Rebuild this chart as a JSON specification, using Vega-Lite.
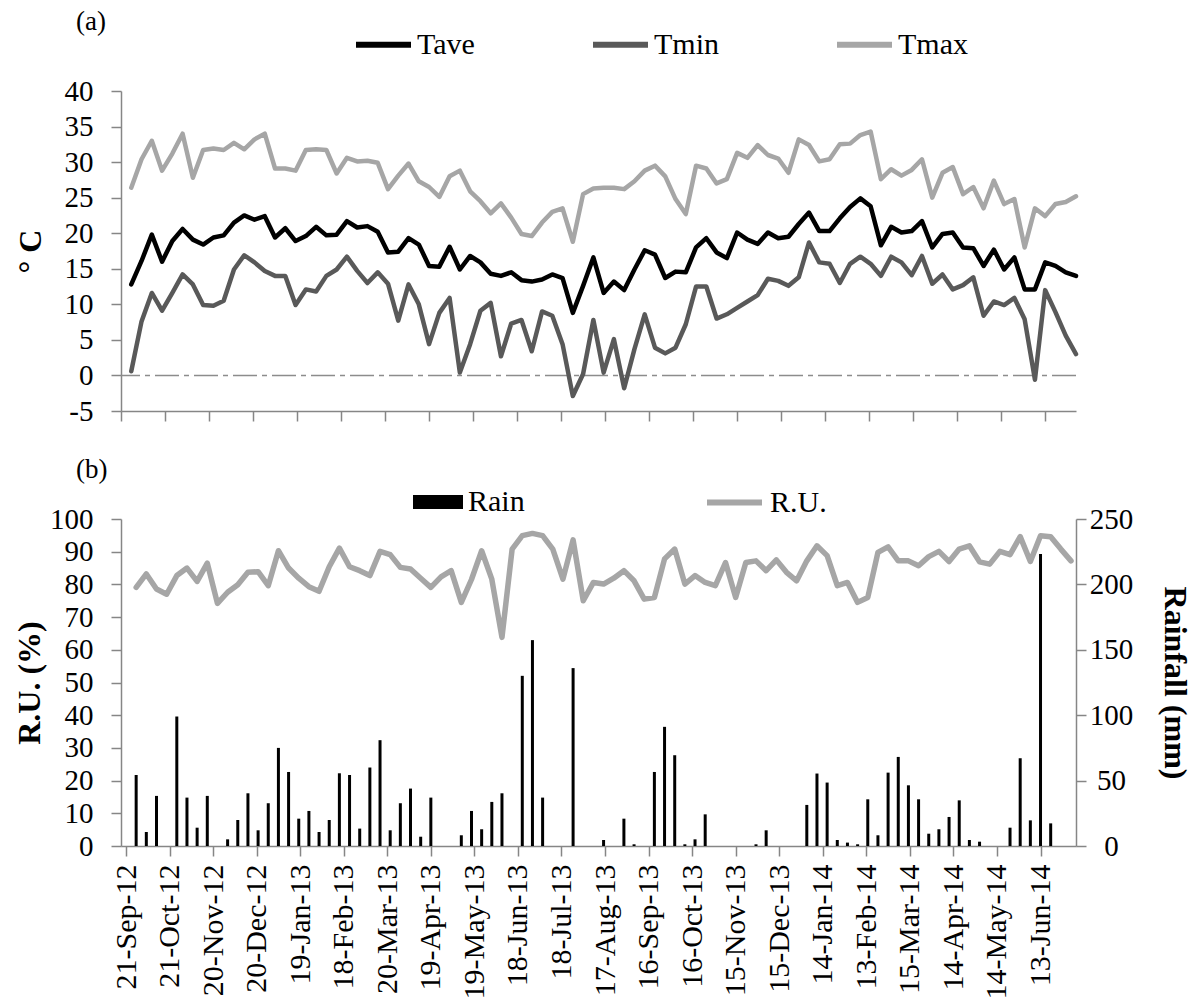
{
  "$schema": "https://vega.github.io/schema/vega-lite/v6.json",
  "padding": {"left": 13, "top": 8, "right": 5, "bottom": 5},
  "config": {
    "font": "Liberation Serif",
    "view": {"stroke": null},
    "axis": {
      "labelFont": "Liberation Serif", "labelFontSize": 29, "labelColor": "#000000",
      "labelOverlap": false, "labelBound": false,
      "domainColor": "#868686", "tickColor": "#868686", "domainWidth": 1.5, "tickWidth": 1.5,
      "tickSize": 10, "grid": false,
      "titleFont": "Liberation Serif", "titleFontWeight": "bold", "titleFontSize": 32, "titleColor": "#000000"
    },
    "legend": {"labelFont": "Liberation Serif", "labelFontSize": 30, "labelColor": "#000000"},
    "title": {"font": "Liberation Serif", "fontSize": 27, "fontWeight": "normal", "color": "#000000"}
  },
  "datasets": {
    "w": [
      {"d": "2012-09-28", "Tmax": 26.4, "Tave": 12.8, "Tmin": 0.6, "RU": 79.1, "Rain": 54.3},
      {"d": "2012-10-05", "Tmax": 30.4, "Tave": 16.1, "Tmin": 7.6, "RU": 83.2, "Rain": 10.7},
      {"d": "2012-10-12", "Tmax": 33.0, "Tave": 19.8, "Tmin": 11.6, "RU": 78.6, "Rain": 38.3},
      {"d": "2012-10-19", "Tmax": 28.8, "Tave": 16.0, "Tmin": 9.1, "RU": 77.0, "Rain": 0},
      {"d": "2012-10-26", "Tmax": 31.2, "Tave": 18.9, "Tmin": 11.6, "RU": 82.7, "Rain": 99.0},
      {"d": "2012-11-02", "Tmax": 34.0, "Tave": 20.6, "Tmin": 14.2, "RU": 85.0, "Rain": 37.0},
      {"d": "2012-11-09", "Tmax": 27.8, "Tave": 19.1, "Tmin": 12.8, "RU": 80.9, "Rain": 14.0},
      {"d": "2012-11-16", "Tmax": 31.7, "Tave": 18.4, "Tmin": 9.9, "RU": 86.5, "Rain": 38.3},
      {"d": "2012-11-23", "Tmax": 31.9, "Tave": 19.4, "Tmin": 9.8, "RU": 74.2, "Rain": 0},
      {"d": "2012-11-30", "Tmax": 31.7, "Tave": 19.7, "Tmin": 10.5, "RU": 77.6, "Rain": 5.1},
      {"d": "2012-12-07", "Tmax": 32.7, "Tave": 21.5, "Tmin": 14.9, "RU": 79.9, "Rain": 19.9},
      {"d": "2012-12-14", "Tmax": 31.8, "Tave": 22.5, "Tmin": 16.9, "RU": 83.7, "Rain": 40.3},
      {"d": "2012-12-21", "Tmax": 33.2, "Tave": 21.9, "Tmin": 15.9, "RU": 83.9, "Rain": 12.0},
      {"d": "2012-12-28", "Tmax": 34.0, "Tave": 22.4, "Tmin": 14.7, "RU": 79.6, "Rain": 32.7},
      {"d": "2013-01-04", "Tmax": 29.1, "Tave": 19.4, "Tmin": 14.0, "RU": 90.3, "Rain": 75.0},
      {"d": "2013-01-11", "Tmax": 29.1, "Tave": 20.7, "Tmin": 14.0, "RU": 85.0, "Rain": 56.6},
      {"d": "2013-01-18", "Tmax": 28.8, "Tave": 18.9, "Tmin": 9.9, "RU": 81.9, "Rain": 20.9},
      {"d": "2013-01-25", "Tmax": 31.7, "Tave": 19.6, "Tmin": 12.1, "RU": 79.3, "Rain": 26.8},
      {"d": "2013-02-01", "Tmax": 31.8, "Tave": 20.9, "Tmin": 11.8, "RU": 77.9, "Rain": 10.7},
      {"d": "2013-02-08", "Tmax": 31.7, "Tave": 19.7, "Tmin": 14.0, "RU": 85.4, "Rain": 19.9},
      {"d": "2013-02-15", "Tmax": 28.4, "Tave": 19.8, "Tmin": 14.9, "RU": 91.1, "Rain": 55.6},
      {"d": "2013-02-22", "Tmax": 30.6, "Tave": 21.7, "Tmin": 16.7, "RU": 85.4, "Rain": 54.3},
      {"d": "2013-03-01", "Tmax": 30.1, "Tave": 20.8, "Tmin": 14.7, "RU": 84.2, "Rain": 13.3},
      {"d": "2013-03-08", "Tmax": 30.2, "Tave": 21.0, "Tmin": 13.0, "RU": 82.7, "Rain": 60.0},
      {"d": "2013-03-15", "Tmax": 29.9, "Tave": 20.2, "Tmin": 14.5, "RU": 90.1, "Rain": 80.9},
      {"d": "2013-03-22", "Tmax": 26.2, "Tave": 17.3, "Tmin": 12.9, "RU": 89.1, "Rain": 12.0},
      {"d": "2013-03-29", "Tmax": 28.1, "Tave": 17.4, "Tmin": 7.7, "RU": 85.2, "Rain": 32.7},
      {"d": "2013-04-05", "Tmax": 29.8, "Tave": 19.3, "Tmin": 12.8, "RU": 84.7, "Rain": 43.9},
      {"d": "2013-04-12", "Tmax": 27.3, "Tave": 18.4, "Tmin": 10.0, "RU": 81.9, "Rain": 7.1},
      {"d": "2013-04-19", "Tmax": 26.5, "Tave": 15.4, "Tmin": 4.4, "RU": 79.1, "Rain": 37.0},
      {"d": "2013-04-26", "Tmax": 25.1, "Tave": 15.3, "Tmin": 8.8, "RU": 82.3, "Rain": 0},
      {"d": "2013-05-03", "Tmax": 28.0, "Tave": 18.1, "Tmin": 10.9, "RU": 84.2, "Rain": 0},
      {"d": "2013-05-10", "Tmax": 28.8, "Tave": 14.9, "Tmin": 0.4, "RU": 74.5, "Rain": 8.2},
      {"d": "2013-05-17", "Tmax": 25.9, "Tave": 16.8, "Tmin": 4.4, "RU": 81.5, "Rain": 26.8},
      {"d": "2013-05-24", "Tmax": 24.5, "Tave": 15.9, "Tmin": 9.1, "RU": 90.3, "Rain": 12.8},
      {"d": "2013-05-31", "Tmax": 22.8, "Tave": 14.3, "Tmin": 10.2, "RU": 81.6, "Rain": 33.7},
      {"d": "2013-06-07", "Tmax": 24.2, "Tave": 14.0, "Tmin": 2.7, "RU": 63.8, "Rain": 40.3},
      {"d": "2013-06-14", "Tmax": 22.2, "Tave": 14.5, "Tmin": 7.3, "RU": 90.8, "Rain": 0},
      {"d": "2013-06-21", "Tmax": 19.9, "Tave": 13.4, "Tmin": 7.8, "RU": 94.9, "Rain": 130.1},
      {"d": "2013-06-28", "Tmax": 19.6, "Tave": 13.2, "Tmin": 3.4, "RU": 95.6, "Rain": 157.4},
      {"d": "2013-07-05", "Tmax": 21.5, "Tave": 13.5, "Tmin": 9.0, "RU": 94.9, "Rain": 37.0},
      {"d": "2013-07-12", "Tmax": 23.0, "Tave": 14.2, "Tmin": 8.4, "RU": 90.8, "Rain": 0},
      {"d": "2013-07-19", "Tmax": 23.5, "Tave": 13.7, "Tmin": 4.4, "RU": 81.6, "Rain": 0},
      {"d": "2013-07-26", "Tmax": 18.8, "Tave": 8.8, "Tmin": -2.9, "RU": 93.6, "Rain": 136.0},
      {"d": "2013-08-02", "Tmax": 25.5, "Tave": 12.6, "Tmin": 0.2, "RU": 75.0, "Rain": 0},
      {"d": "2013-08-09", "Tmax": 26.3, "Tave": 16.6, "Tmin": 7.8, "RU": 80.6, "Rain": 0},
      {"d": "2013-08-16", "Tmax": 26.4, "Tave": 11.6, "Tmin": 0.4, "RU": 80.1, "Rain": 4.6},
      {"d": "2013-08-23", "Tmax": 26.4, "Tave": 13.2, "Tmin": 5.1, "RU": 81.9, "Rain": 0},
      {"d": "2013-08-30", "Tmax": 26.2, "Tave": 12.0, "Tmin": -1.8, "RU": 84.2, "Rain": 20.9},
      {"d": "2013-09-06", "Tmax": 27.3, "Tave": 14.9, "Tmin": 3.7, "RU": 81.1, "Rain": 1.3},
      {"d": "2013-09-13", "Tmax": 28.8, "Tave": 17.6, "Tmin": 8.6, "RU": 75.5, "Rain": 0},
      {"d": "2013-09-20", "Tmax": 29.5, "Tave": 17.0, "Tmin": 3.9, "RU": 76.0, "Rain": 56.6},
      {"d": "2013-09-27", "Tmax": 28.0, "Tave": 13.7, "Tmin": 3.1, "RU": 87.8, "Rain": 91.1},
      {"d": "2013-10-04", "Tmax": 24.8, "Tave": 14.6, "Tmin": 3.9, "RU": 90.8, "Rain": 69.4},
      {"d": "2013-10-11", "Tmax": 22.7, "Tave": 14.5, "Tmin": 7.2, "RU": 80.1, "Rain": 1.3},
      {"d": "2013-10-18", "Tmax": 29.5, "Tave": 18.0, "Tmin": 12.5, "RU": 82.7, "Rain": 5.1},
      {"d": "2013-10-25", "Tmax": 29.1, "Tave": 19.3, "Tmin": 12.5, "RU": 80.6, "Rain": 24.2},
      {"d": "2013-11-01", "Tmax": 27.0, "Tave": 17.3, "Tmin": 8.0, "RU": 79.6, "Rain": 0},
      {"d": "2013-11-08", "Tmax": 27.6, "Tave": 16.5, "Tmin": 8.6, "RU": 86.7, "Rain": 0},
      {"d": "2013-11-15", "Tmax": 31.3, "Tave": 20.1, "Tmin": 9.5, "RU": 76.0, "Rain": 0},
      {"d": "2013-11-22", "Tmax": 30.6, "Tave": 19.1, "Tmin": 10.4, "RU": 86.7, "Rain": 0},
      {"d": "2013-11-29", "Tmax": 32.4, "Tave": 18.5, "Tmin": 11.3, "RU": 87.2, "Rain": 1.3},
      {"d": "2013-12-06", "Tmax": 31.0, "Tave": 20.1, "Tmin": 13.6, "RU": 84.2, "Rain": 12.0},
      {"d": "2013-12-13", "Tmax": 30.5, "Tave": 19.3, "Tmin": 13.3, "RU": 87.5, "Rain": 0},
      {"d": "2013-12-20", "Tmax": 28.5, "Tave": 19.5, "Tmin": 12.6, "RU": 83.7, "Rain": 0},
      {"d": "2013-12-27", "Tmax": 33.2, "Tave": 21.3, "Tmin": 13.8, "RU": 81.1, "Rain": 0},
      {"d": "2014-01-03", "Tmax": 32.4, "Tave": 22.9, "Tmin": 18.7, "RU": 87.2, "Rain": 31.4},
      {"d": "2014-01-10", "Tmax": 30.1, "Tave": 20.3, "Tmin": 15.9, "RU": 91.8, "Rain": 55.4},
      {"d": "2014-01-17", "Tmax": 30.4, "Tave": 20.3, "Tmin": 15.7, "RU": 88.8, "Rain": 48.5},
      {"d": "2014-01-24", "Tmax": 32.5, "Tave": 22.1, "Tmin": 13.0, "RU": 79.6, "Rain": 4.6},
      {"d": "2014-01-31", "Tmax": 32.6, "Tave": 23.7, "Tmin": 15.7, "RU": 80.6, "Rain": 2.6},
      {"d": "2014-02-07", "Tmax": 33.8, "Tave": 24.9, "Tmin": 16.7, "RU": 74.5, "Rain": 1.3},
      {"d": "2014-02-14", "Tmax": 34.3, "Tave": 23.8, "Tmin": 15.7, "RU": 76.0, "Rain": 35.7},
      {"d": "2014-02-21", "Tmax": 27.6, "Tave": 18.3, "Tmin": 14.0, "RU": 89.8, "Rain": 8.2},
      {"d": "2014-02-28", "Tmax": 29.0, "Tave": 20.9, "Tmin": 16.7, "RU": 91.5, "Rain": 56.1},
      {"d": "2014-03-07", "Tmax": 28.1, "Tave": 20.1, "Tmin": 15.9, "RU": 87.2, "Rain": 68.1},
      {"d": "2014-03-14", "Tmax": 28.9, "Tave": 20.3, "Tmin": 14.1, "RU": 87.2, "Rain": 46.4},
      {"d": "2014-03-21", "Tmax": 30.4, "Tave": 21.7, "Tmin": 16.8, "RU": 85.7, "Rain": 35.7},
      {"d": "2014-03-28", "Tmax": 25.0, "Tave": 18.0, "Tmin": 12.9, "RU": 88.5, "Rain": 9.4},
      {"d": "2014-04-04", "Tmax": 28.5, "Tave": 19.9, "Tmin": 14.2, "RU": 90.1, "Rain": 12.8},
      {"d": "2014-04-11", "Tmax": 29.3, "Tave": 20.1, "Tmin": 12.1, "RU": 87.0, "Rain": 22.2},
      {"d": "2014-04-18", "Tmax": 25.5, "Tave": 18.0, "Tmin": 12.7, "RU": 90.8, "Rain": 34.9},
      {"d": "2014-04-25", "Tmax": 26.5, "Tave": 17.9, "Tmin": 13.8, "RU": 91.8, "Rain": 4.6},
      {"d": "2014-05-02", "Tmax": 23.5, "Tave": 15.4, "Tmin": 8.4, "RU": 86.9, "Rain": 3.3},
      {"d": "2014-05-09", "Tmax": 27.4, "Tave": 17.7, "Tmin": 10.4, "RU": 86.2, "Rain": 0},
      {"d": "2014-05-16", "Tmax": 24.1, "Tave": 14.9, "Tmin": 9.9, "RU": 90.1, "Rain": 0},
      {"d": "2014-05-23", "Tmax": 24.8, "Tave": 16.6, "Tmin": 10.9, "RU": 89.1, "Rain": 14.0},
      {"d": "2014-05-30", "Tmax": 18.0, "Tave": 12.1, "Tmin": 7.9, "RU": 94.6, "Rain": 67.1},
      {"d": "2014-06-06", "Tmax": 23.5, "Tave": 12.1, "Tmin": -0.6, "RU": 87.0, "Rain": 19.6},
      {"d": "2014-06-13", "Tmax": 22.4, "Tave": 15.9, "Tmin": 12.0, "RU": 94.9, "Rain": 223.2},
      {"d": "2014-06-20", "Tmax": 24.1, "Tave": 15.4, "Tmin": 8.9, "RU": 94.6, "Rain": 17.3},
      {"d": "2014-06-27", "Tmax": 24.4, "Tave": 14.5, "Tmin": 5.6, "RU": 90.8, "Rain": 0},
      {"d": "2014-07-04", "Tmax": 25.2, "Tave": 14.0, "Tmin": 3.0, "RU": 87.2, "Rain": 0}
    ]
  },
  "bounds": "flush",
  "spacing": 108,
  "resolve": {
    "scale": {"x": "independent", "color": "independent", "stroke": "independent"},
    "legend": {"color": "independent", "stroke": "independent"}
  },
  "vconcat": [
    {
      "width": 955,
      "height": 320,
      "title": {"text": "(a)", "anchor": "start", "frame": "group", "dx": -45, "offset": -22},
      "layer": [
        {
          "data": {"values": [{"ref": 0}]},
          "mark": {"type": "rule", "strokeDash": [24, 5, 5, 5], "color": "#8C8C8C", "strokeWidth": 1.5},
          "encoding": {
            "y": {
              "field": "ref", "type": "quantitative", "scale": {"domain": [-5, 40], "nice": false},
              "axis": {"title": "° C", "titlePadding": 17, "labelPadding": 18, "labelOverlap": false, "labelFont": "Liberation Serif", "labelExpr": "'' + datum.value", "values": [-5, 0, 5, 10, 15, 20, 25, 30, 35, 40]}
            }
          }
        },
        {
          "data": {"name": "w"},
          "transform": [{"fold": ["Tave", "Tmin", "Tmax"], "as": ["key", "value"]}],
          "mark": {"type": "line", "strokeWidth": 4.5, "strokeJoin": "round", "strokeCap": "round"},
          "encoding": {
            "x": {
              "field": "d", "type": "temporal",
              "scale": {"type": "utc", "domain": [{"year": 2012, "month": 9, "date": 21, "utc": true}, {"year": 2014, "month": 7, "date": 4, "utc": true}]},
              "axis": {
                "title": null, "labels": false, "grid": false, "tickSize": 10,
                "values": [
                  {"year": 2012, "month": 9, "date": 21, "utc": true},
                  {"year": 2012, "month": 10, "date": 21, "utc": true},
                  {"year": 2012, "month": 11, "date": 20, "utc": true},
                  {"year": 2012, "month": 12, "date": 20, "utc": true},
                  {"year": 2013, "month": 1, "date": 19, "utc": true},
                  {"year": 2013, "month": 2, "date": 18, "utc": true},
                  {"year": 2013, "month": 3, "date": 20, "utc": true},
                  {"year": 2013, "month": 4, "date": 19, "utc": true},
                  {"year": 2013, "month": 5, "date": 19, "utc": true},
                  {"year": 2013, "month": 6, "date": 18, "utc": true},
                  {"year": 2013, "month": 7, "date": 18, "utc": true},
                  {"year": 2013, "month": 8, "date": 17, "utc": true},
                  {"year": 2013, "month": 9, "date": 16, "utc": true},
                  {"year": 2013, "month": 10, "date": 16, "utc": true},
                  {"year": 2013, "month": 11, "date": 15, "utc": true},
                  {"year": 2013, "month": 12, "date": 15, "utc": true},
                  {"year": 2014, "month": 1, "date": 14, "utc": true},
                  {"year": 2014, "month": 2, "date": 13, "utc": true},
                  {"year": 2014, "month": 3, "date": 15, "utc": true},
                  {"year": 2014, "month": 4, "date": 14, "utc": true},
                  {"year": 2014, "month": 5, "date": 14, "utc": true},
                  {"year": 2014, "month": 6, "date": 13, "utc": true}
                ]
              }
            },
            "y": {
              "field": "value", "type": "quantitative",
              "scale": {"domain": [-5, 40], "nice": false},
              "axis": {"title": "° C", "titlePadding": 17, "labelPadding": 18, "labelOverlap": false, "labelFont": "Liberation Serif", "labelExpr": "'' + datum.value", "values": [-5, 0, 5, 10, 15, 20, 25, 30, 35, 40]}
            },
            "color": {
              "field": "key", "type": "nominal",
              "scale": {"domain": ["Tave", "Tmin", "Tmax"], "range": ["#000000", "#595959", "#A6A6A6"]},
              "legend": {
                "title": null, "orient": "none", "legendX": 232, "legendY": -77, "direction": "horizontal",
                "columns": 3, "columnPadding": 106, "symbolType": "stroke", "symbolSize": 3025,
                "symbolStrokeWidth": 6, "labelOffset": 3, "padding": 0
              }
            }
          }
        }
      ]
    },
    {
      "width": 955,
      "height": 327,
      "title": {"text": "(b)", "anchor": "start", "frame": "group", "dx": -45, "offset": -12},
      "data": {"name": "w"},
      "layer": [
        {
          "mark": {"type": "bar", "width": 3},
          "encoding": {
            "x": {
              "field": "d", "type": "temporal",
              "scale": {"type": "utc", "domain": [{"year": 2012, "month": 9, "date": 21, "utc": true}, {"year": 2014, "month": 7, "date": 4, "utc": true}]},
              "axis": {
                "title": null, "grid": false, "tickSize": 10, "labelAngle": 270, "labelPadding": 8,
                "labelFont": "Liberation Serif", "labelFontSize": 30,
                "labelExpr": "utcFormat(datum.value, '%d-%b-%y')", "labelOverlap": false, "labelFlush": false, "labelBound": false,
                "values": [
                  {"year": 2012, "month": 9, "date": 21, "utc": true},
                  {"year": 2012, "month": 10, "date": 21, "utc": true},
                  {"year": 2012, "month": 11, "date": 20, "utc": true},
                  {"year": 2012, "month": 12, "date": 20, "utc": true},
                  {"year": 2013, "month": 1, "date": 19, "utc": true},
                  {"year": 2013, "month": 2, "date": 18, "utc": true},
                  {"year": 2013, "month": 3, "date": 20, "utc": true},
                  {"year": 2013, "month": 4, "date": 19, "utc": true},
                  {"year": 2013, "month": 5, "date": 19, "utc": true},
                  {"year": 2013, "month": 6, "date": 18, "utc": true},
                  {"year": 2013, "month": 7, "date": 18, "utc": true},
                  {"year": 2013, "month": 8, "date": 17, "utc": true},
                  {"year": 2013, "month": 9, "date": 16, "utc": true},
                  {"year": 2013, "month": 10, "date": 16, "utc": true},
                  {"year": 2013, "month": 11, "date": 15, "utc": true},
                  {"year": 2013, "month": 12, "date": 15, "utc": true},
                  {"year": 2014, "month": 1, "date": 14, "utc": true},
                  {"year": 2014, "month": 2, "date": 13, "utc": true},
                  {"year": 2014, "month": 3, "date": 15, "utc": true},
                  {"year": 2014, "month": 4, "date": 14, "utc": true},
                  {"year": 2014, "month": 5, "date": 14, "utc": true},
                  {"year": 2014, "month": 6, "date": 13, "utc": true}
                ]
              }
            },
            "y": {
              "field": "Rain", "type": "quantitative",
              "scale": {"domain": [0, 250], "nice": false},
              "axis": {"orient": "right", "title": "Rainfall (mm)", "titlePadding": 25, "labelPadding": 25, "labelAlign": "center", "labelFont": "Liberation Serif", "values": [0, 50, 100, 150, 200, 250]}
            },
            "color": {
              "datum": "Rain",
              "scale": {"range": ["#000000"]},
              "legend": {
                "title": null, "orient": "none", "legendX": 292, "legendY": -42,
                "symbolType": "M-1,-0.28H1V0.28H-1Z", "symbolSize": 2500, "symbolStrokeWidth": 0,
                "labelOffset": 5, "padding": 0
              }
            }
          }
        },
        {
          "mark": {"type": "line", "strokeWidth": 5.5, "strokeJoin": "round", "strokeCap": "round"},
          "encoding": {
            "x": {"field": "d", "type": "temporal"},
            "y": {
              "field": "RU", "type": "quantitative",
              "scale": {"domain": [0, 100], "nice": false},
              "axis": {"orient": "left", "title": "R.U. (%)", "titlePadding": 3, "labelPadding": 18, "labelFont": "Liberation Serif", "values": [0, 10, 20, 30, 40, 50, 60, 70, 80, 90, 100]}
            },
            "stroke": {
              "datum": "R.U.",
              "scale": {"range": ["#A6A6A6"]},
              "legend": {
                "title": null, "orient": "none", "legendX": 583, "legendY": -47,
                "symbolType": "stroke", "symbolSize": 3025, "symbolStrokeWidth": 6,
                "labelOffset": 5, "padding": 0
              }
            }
          }
        }
      ],
      "resolve": {"scale": {"y": "independent"}}
    }
  ]
}
